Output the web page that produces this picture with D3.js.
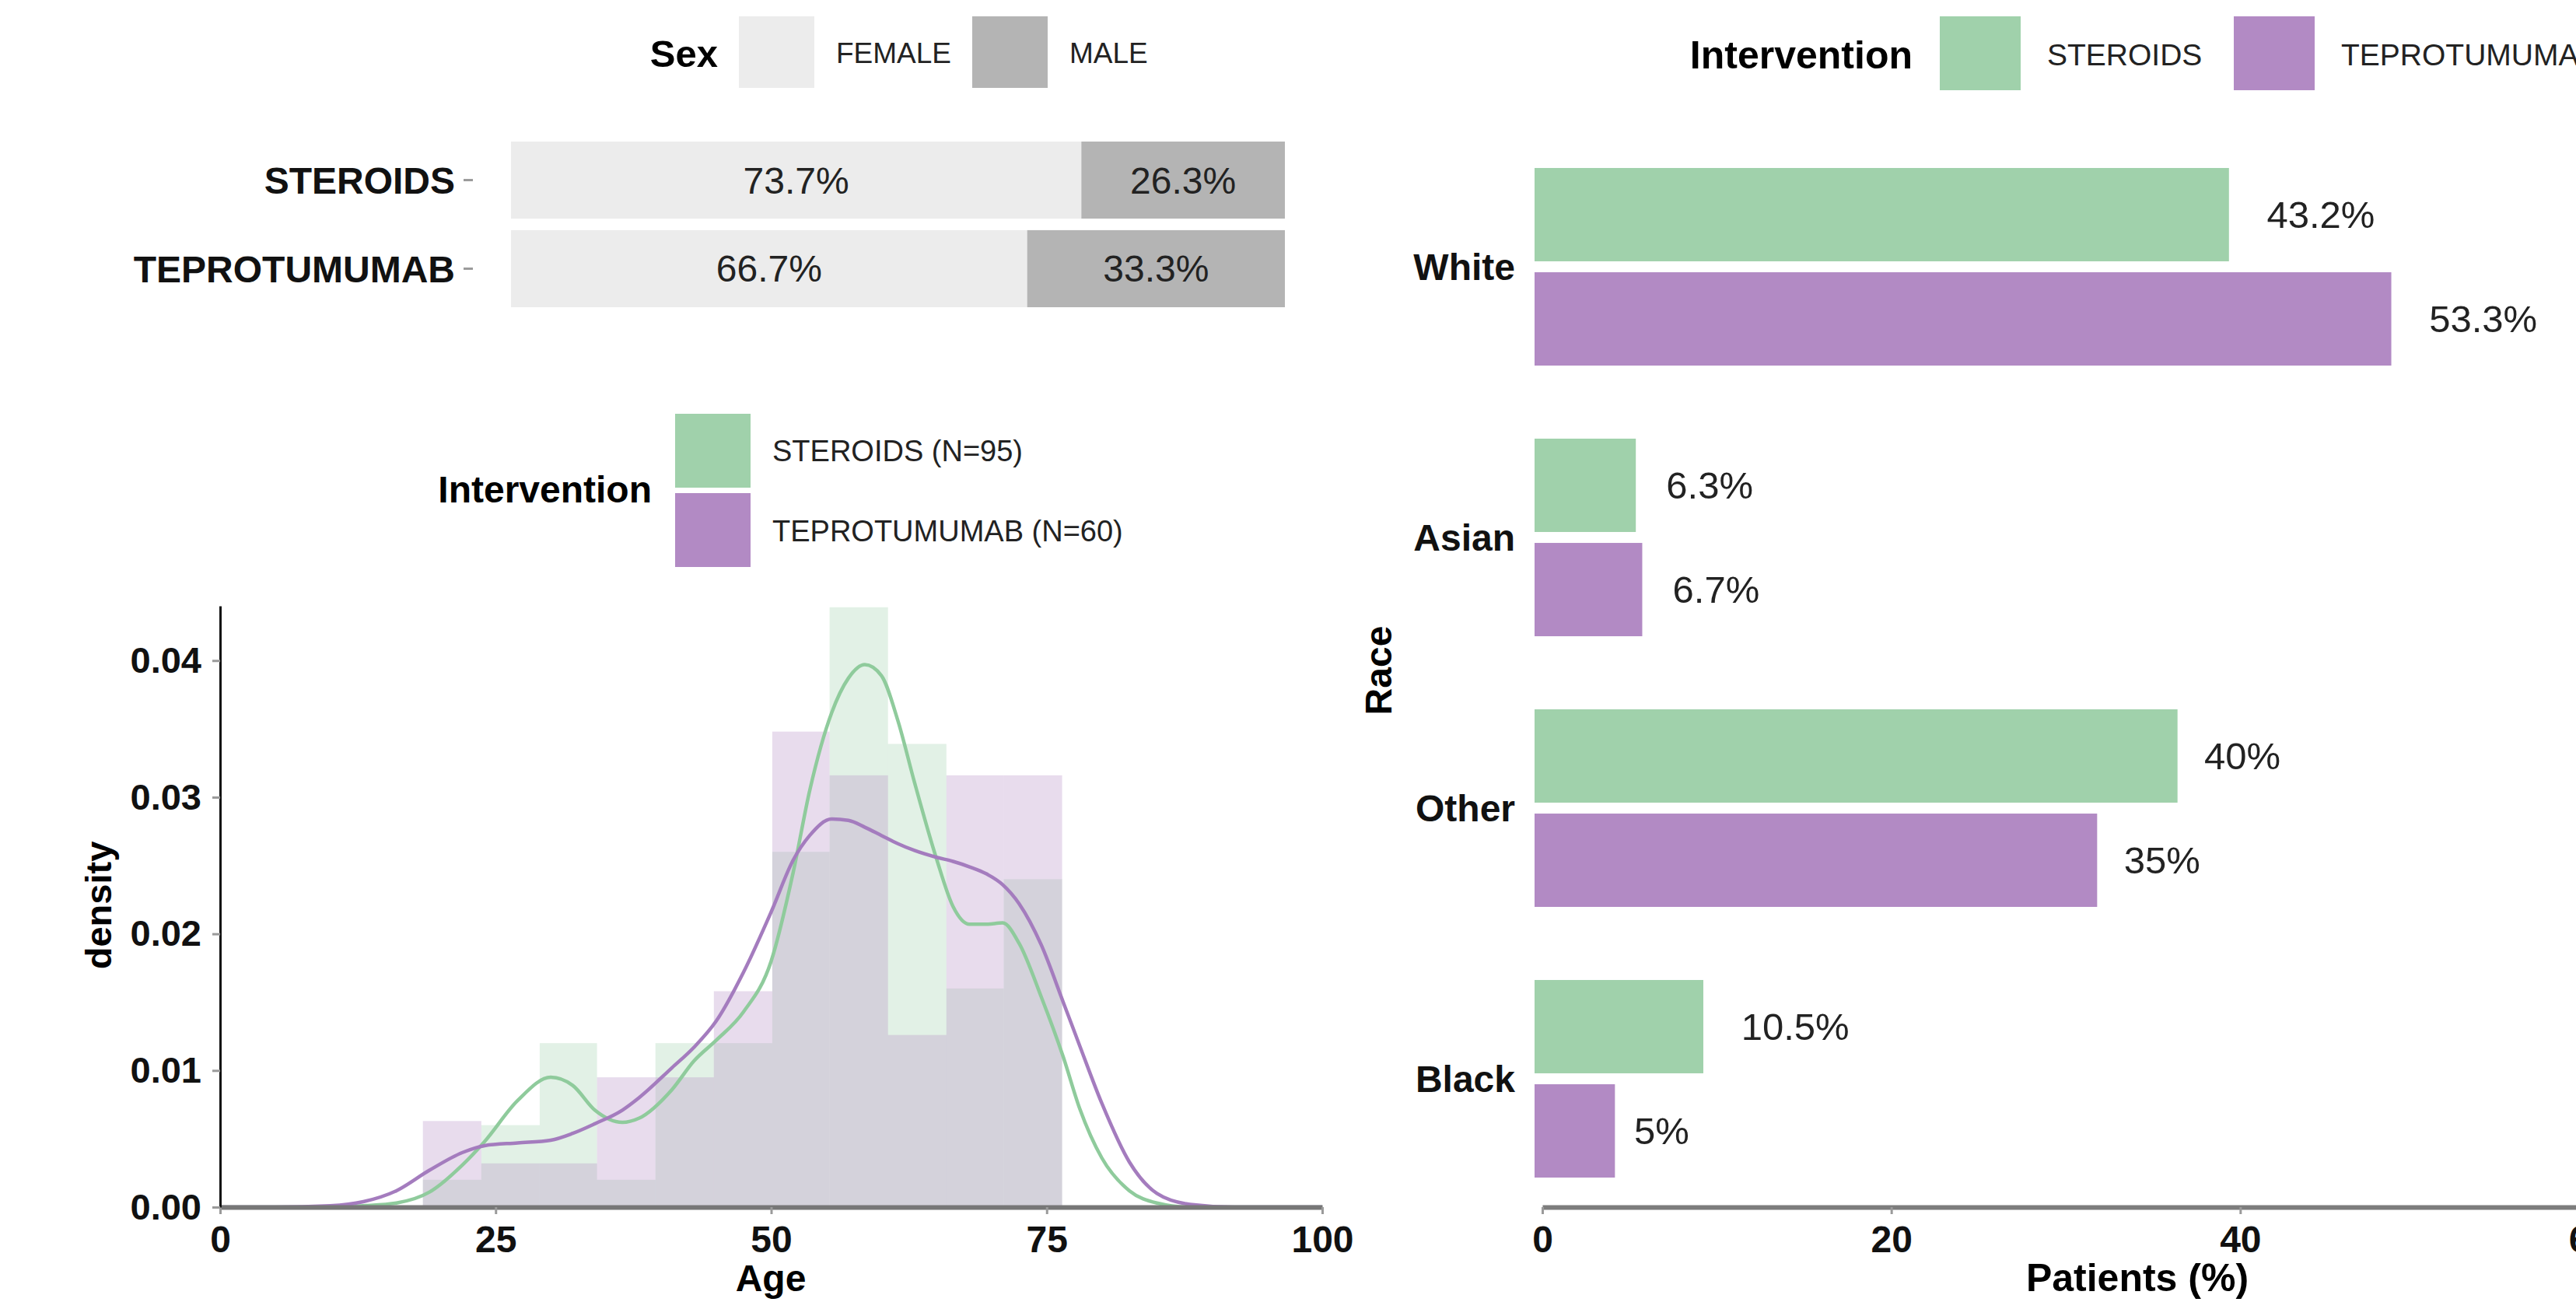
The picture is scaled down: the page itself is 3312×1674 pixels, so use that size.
<!DOCTYPE html>
<html lang="en">
<head>
  <meta charset="UTF-8" />
  <title>Sex, age and race by intervention</title>
  <style>
    body {
      margin: 0;
      background-color: #fff;
    }

    svg {
      display: block;
      font-family: "Liberation Sans", Arial, Helvetica, sans-serif;
    }

    .bold { font-weight: bold; }
    .tick line { stroke: #9a9a9a; stroke-width: 3px; }
  </style>
</head>
<body>
  <svg width="3312" height="1674"></svg>

  <script src="https://cdnjs.cloudflare.com/ajax/libs/d3/7.8.5/d3.min.js"></script>
  <script>
    // --- Sex split per intervention (stacked %)
    const sexGroups = ["STEROIDS", "TEPROTUMUMAB"];
    const sexKeys = ["FEMALE", "MALE"];
    const femalePct = [73.7, 66.7];
    const malePct = [26.3, 33.3];

    // --- Age distribution
    const interventions = ["STEROIDS", "TEPROTUMUMAB"];
    const interventionN = [95, 60];
    const binEdges = [18.4, 23.7, 29.0, 34.2, 39.5, 44.8, 50.1, 55.3, 60.6, 65.9, 71.1, 76.4];
    const histSteroids = [0.0020, 0.0060, 0.0120, 0.0020, 0.0120, 0.0120, 0.0260, 0.0439, 0.0339, 0.0160, 0.0240];
    const histTepro = [0.0063, 0.0032, 0.0032, 0.0095, 0.0095, 0.0158, 0.0348, 0.0316, 0.0126, 0.0316, 0.0316];
    const kdeAges = [0, 5, 10, 13, 16, 19, 22, 24, 27, 30, 32, 34, 36.5, 38, 41, 43, 45, 47.5, 50, 52, 53.5, 55.5,
      57, 58.5, 60, 61.5, 63, 65, 66.5, 68, 69.5, 71, 72.5, 74.5, 76.5, 78, 80, 82.5, 85, 88, 92, 100];
    const kdeSteroids = [0, 0, 0, 0.0001, 0.0003, 0.0011, 0.0031, 0.0048, 0.0078, 0.0095, 0.0089, 0.0071, 0.0062,
      0.0065, 0.0086, 0.0107, 0.0122, 0.0143, 0.0180, 0.0245, 0.0305, 0.0362, 0.0387, 0.0397, 0.0389, 0.0356,
      0.0311, 0.0255, 0.0220, 0.0207, 0.0207, 0.0208, 0.0193, 0.0154, 0.0110, 0.0072, 0.0036, 0.0012, 0.0003, 0, 0, 0];
    const kdeTepro = [0, 0, 0.0001, 0.0004, 0.0012, 0.0027, 0.0040, 0.0045, 0.0047, 0.0049, 0.0054, 0.0061, 0.0071,
      0.0080, 0.0102, 0.0117, 0.0136, 0.0172, 0.0216, 0.0254, 0.0272, 0.0284, 0.0283, 0.0278, 0.0272, 0.0266,
      0.0261, 0.0256, 0.0253, 0.0249, 0.0244, 0.0236, 0.0222, 0.0192, 0.0150, 0.0118, 0.0076, 0.0033, 0.0010, 0.0002, 0, 0];
    const ageTicks = [0, 25, 50, 75, 100];
    const densityTicks = [0, 0.01, 0.02, 0.03, 0.04];

    // --- Race
    const races = ["White", "Asian", "Other", "Black"];
    const raceSteroids = [43.2, 6.3, 40, 10.5];
    const raceTepro = [53.3, 6.7, 35, 5];
    const raceLabelsSteroids = ["43.2%", "6.3%", "40%", "10.5%"];
    const raceLabelsTepro = ["53.3%", "6.7%", "35%", "5%"];
    const patientTicks = [0, 20, 40, 60];

    const sexColor = d3.scaleOrdinal().domain(sexKeys).range(["#ececec", "#b4b4b4"]);
    const color = d3.scaleOrdinal().domain(interventions).range(["#a0d1ab", "#b28ac4"]);
    const lineColor = d3.scaleOrdinal().domain(interventions).range(["#8fcb9c", "#a47cbe"]);

    const svg = d3.select("svg");
    svg.append("rect").attr("width", 3312).attr("height", 1674).attr("fill", "#fff");

    // ================= Sex stacked bars =================
    const xSex = d3.scaleLinear().domain([0, 100]).range([657, 1652]);
    const ySex = d3.scaleBand().domain(sexGroups).range([182, 395]).paddingInner(0.13);

    const sexRows = sexGroups.map((g, i) => ({ group: g, FEMALE: femalePct[i], MALE: malePct[i] }));
    const stacked = d3.stack().keys(sexKeys)(sexRows);

    const sexG = svg.append("g");
    stacked.forEach(layer => {
      sexG.append("g").attr("fill", sexColor(layer.key))
        .selectAll("rect")
        .data(layer)
        .join("rect")
        .attr("x", d => xSex(d[0]))
        .attr("width", d => xSex(d[1]) - xSex(d[0]))
        .attr("y", d => ySex(d.data.group))
        .attr("height", ySex.bandwidth());

      sexG.append("g")
        .selectAll("text")
        .data(layer)
        .join("text")
        .attr("x", d => (xSex(d[0]) + xSex(d[1])) / 2)
        .attr("y", d => ySex(d.data.group) + ySex.bandwidth() / 2 + 17)
        .attr("text-anchor", "middle")
        .attr("font-size", 48)
        .attr("fill", "#222")
        .text(d => (d[1] - d[0]).toFixed(1) + "%");
    });

    const sexAxis = svg.append("g")
      .attr("transform", "translate(608,0)")
      .call(d3.axisLeft(ySex).tickSize(12).tickPadding(11));
    sexAxis.select(".domain").remove();
    sexAxis.selectAll("text").attr("class", "bold").attr("font-size", 48).attr("fill", "#111").attr("dy", "0.36em");

    // Sex legend
    const sexLeg = svg.append("g");
    sexLeg.append("text").attr("class", "bold").attr("x", 923).attr("y", 86)
      .attr("text-anchor", "end").attr("font-size", 49).text("Sex");
    const sexKeyX = [950, 1250];
    sexKeys.forEach((k, i) => {
      sexLeg.append("rect").attr("x", sexKeyX[i]).attr("y", 21).attr("width", 97).attr("height", 92)
        .attr("fill", sexColor(k));
      sexLeg.append("text").attr("x", sexKeyX[i] + 125).attr("y", 81)
        .attr("font-size", 37).attr("fill", "#222").text(k);
    });

    // ================= Age density =================
    const xAge = d3.scaleLinear().domain([0, 100]).range([283, 1700]);
    const yDen = d3.scaleLinear().domain([0, 0.0440]).range([1552, 779]);

    const histG = svg.append("g");
    [histSteroids, histTepro].forEach((vals, gi) => {
      histG.append("g")
        .attr("fill", color(interventions[gi]))
        .attr("fill-opacity", 0.3)
        .selectAll("rect")
        .data(vals)
        .join("rect")
        .attr("x", (d, i) => xAge(binEdges[i]))
        .attr("width", (d, i) => xAge(binEdges[i + 1]) - xAge(binEdges[i]))
        .attr("y", d => yDen(d))
        .attr("height", d => yDen(0) - yDen(d));
    });

    const line = d3.line()
      .x(d => xAge(d[0]))
      .y(d => yDen(d[1]))
      .curve(d3.curveMonotoneX);

    [kdeSteroids, kdeTepro].forEach((vals, gi) => {
      svg.append("path")
        .datum(kdeAges.map((a, i) => [a, vals[i]]))
        .attr("fill", "none")
        .attr("stroke", lineColor(interventions[gi]))
        .attr("stroke-width", 4.5)
        .attr("d", line);
    });

    const xAgeAxis = svg.append("g")
      .attr("transform", `translate(0,${yDen(0)})`)
      .call(d3.axisBottom(xAge).tickValues(ageTicks).tickSize(9).tickSizeOuter(0).tickPadding(15));
    xAgeAxis.select(".domain").attr("stroke", "#777").attr("stroke-width", 6);
    xAgeAxis.selectAll("text").attr("class", "bold").attr("font-size", 48).attr("fill", "#111");

    const yDenAxis = svg.append("g")
      .attr("transform", `translate(${xAge(0)},0)`)
      .call(d3.axisLeft(yDen).tickValues(densityTicks).tickFormat(d3.format(".2f"))
        .tickSize(10).tickSizeOuter(0).tickPadding(14));
    yDenAxis.select(".domain").attr("stroke", "#111").attr("stroke-width", 3);
    yDenAxis.selectAll("text").attr("class", "bold").attr("font-size", 47).attr("fill", "#111");

    svg.append("text").attr("class", "bold").attr("x", 991).attr("y", 1660)
      .attr("text-anchor", "middle").attr("font-size", 48).text("Age");
    svg.append("text").attr("class", "bold")
      .attr("transform", "translate(143,1164) rotate(-90)")
      .attr("text-anchor", "middle").attr("font-size", 47).text("density");

    // Intervention legend (density)
    const denLeg = svg.append("g");
    denLeg.append("text").attr("class", "bold").attr("x", 838).attr("y", 646)
      .attr("text-anchor", "end").attr("font-size", 48).text("Intervention");
    interventions.forEach((k, i) => {
      denLeg.append("rect").attr("x", 868).attr("y", 532 + i * 102).attr("width", 97).attr("height", 95)
        .attr("fill", color(k));
      denLeg.append("text").attr("x", 993).attr("y", 593 + i * 103)
        .attr("font-size", 38).attr("fill", "#222")
        .text(`${k} (N=${interventionN[i]})`);
    });

    // ================= Race bars =================
    // bar lengths and the printed axis ticks use slightly different spacing in the source figure
    const xRace = d3.scaleLinear().domain([0, 60]).range([1973, 3213]);
    const xRaceAxis = d3.scaleLinear().domain([0, 60]).range([1983, 3329]);
    const yRace = d3.scaleBand().domain(races).range([169, 1561]).paddingInner(0.27).paddingOuter(0.135);
    const ySub = d3.scaleBand().domain(interventions).range([0, yRace.bandwidth()]).paddingInner(0.105);

    const raceRows = races.map((r, i) => ({ race: r, vals: [raceSteroids[i], raceTepro[i]], labels: [raceLabelsSteroids[i], raceLabelsTepro[i]] }));

    const raceG = svg.append("g")
      .selectAll("g")
      .data(raceRows)
      .join("g")
      .attr("transform", d => `translate(0,${yRace(d.race)})`);

    raceG.selectAll("rect")
      .data(d => interventions.map((k, i) => ({ key: k, value: d.vals[i] })))
      .join("rect")
      .attr("x", xRace(0))
      .attr("y", d => ySub(d.key))
      .attr("width", d => xRace(d.value) - xRace(0))
      .attr("height", ySub.bandwidth())
      .attr("fill", d => color(d.key));

    raceG.selectAll("text.val")
      .data(d => interventions.map((k, i) => ({ key: k, value: d.vals[i], label: d.labels[i] })))
      .join("text")
      .attr("class", "val")
      .attr("y", d => ySub(d.key) + ySub.bandwidth() / 2 + 17)
      .attr("font-size", 49)
      .attr("fill", "#222")
      .text(d => d.label)
      .each(function(d) {
        const w = this.getComputedTextLength();
        d3.select(this).attr("x", xRace(d.value) + 0.35 * w);
      });

    svg.append("g")
      .selectAll("text")
      .data(races)
      .join("text")
      .attr("class", "bold")
      .attr("x", 1948)
      .attr("y", d => yRace(d) + yRace.bandwidth() / 2 + 17)
      .attr("text-anchor", "end")
      .attr("font-size", 48)
      .attr("fill", "#111")
      .text(d => d);

    const raceAxis = svg.append("g")
      .attr("transform", "translate(0,1552)")
      .call(d3.axisBottom(xRaceAxis).tickValues(patientTicks).tickSize(9).tickSizeOuter(0).tickPadding(15));
    raceAxis.select(".domain").attr("stroke", "#7d7d7d").attr("stroke-width", 6);
    raceAxis.selectAll("text").attr("class", "bold").attr("font-size", 48).attr("fill", "#111");

    svg.append("text").attr("class", "bold").attr("x", 2748).attr("y", 1660)
      .attr("text-anchor", "middle").attr("font-size", 50).text("Patients (%)");
    svg.append("text").attr("class", "bold")
      .attr("transform", "translate(1789,862) rotate(-90)")
      .attr("text-anchor", "middle").attr("font-size", 48).text("Race");

    // Intervention legend (race)
    const raceLeg = svg.append("g");
    raceLeg.append("text").attr("class", "bold").attr("x", 2459).attr("y", 88)
      .attr("text-anchor", "end").attr("font-size", 50).text("Intervention");
    const raceKeyX = [2494, 2872];
    interventions.forEach((k, i) => {
      raceLeg.append("rect").attr("x", raceKeyX[i]).attr("y", 21).attr("width", 104).attr("height", 95)
        .attr("fill", color(k));
      raceLeg.append("text").attr("x", raceKeyX[i] + 138).attr("y", 84)
        .attr("font-size", 39).attr("fill", "#222").text(k);
    });
  </script>
</body>
</html>
